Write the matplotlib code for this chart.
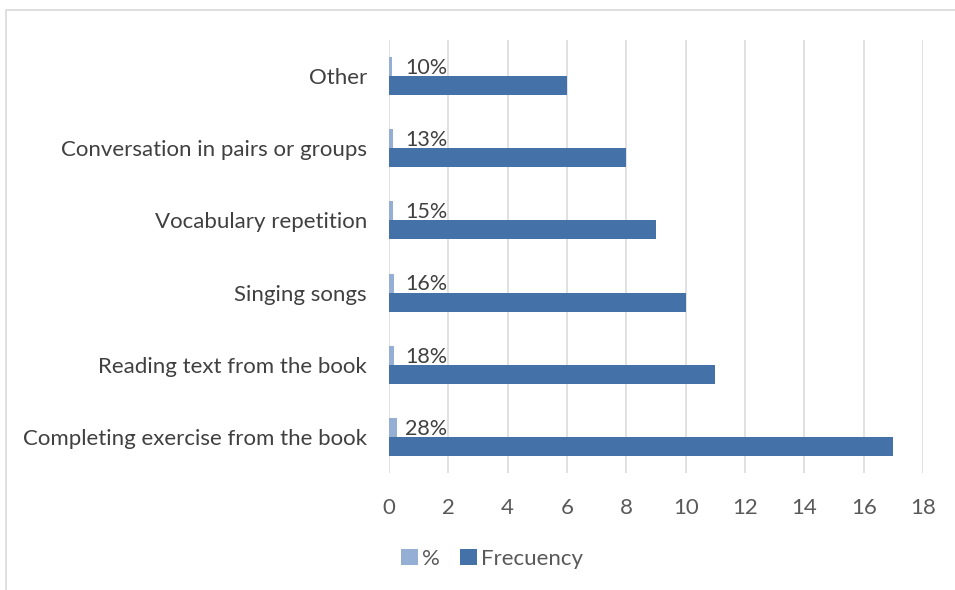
import matplotlib.pyplot as plt
from matplotlib.patches import Rectangle

# activities, top to bottom as in the chart
categories = [
    "Other",
    "Conversation in pairs or groups",
    "Vocabulary repetition",
    "Singing songs",
    "Reading text from the book",
    "Completing exercise from the book",
]
frecuency = [6, 8, 9, 10, 11, 17]
percent = [0.10, 0.13, 0.15, 0.16, 0.18, 0.28]
percent_labels = ["10%", "13%", "15%", "16%", "18%", "28%"]
x_ticks = [0, 2, 4, 6, 8, 10, 12, 14, 16, 18]

plt.rcParams["font.family"] = ["Lato", "DejaVu Sans"]

fig = plt.figure(figsize=(9.55, 5.9), dpi=100)
ax = fig.add_axes([389 / 955, 1 - 473 / 590, 534 / 955, 433 / 590])

# bottom category first so "Other" sits at the top
pos = list(range(len(categories)))[::-1]
h = 0.263

ax.barh([p - h / 2 for p in pos], frecuency, height=h, color="#4472A8",
        label="Frecuency", zorder=3)
ax.barh([p + h / 2 for p in pos], percent, height=h, color="#95AED4",
        label="%", zorder=3)

for p, lab in zip(pos, percent_labels):
    ax.annotate(lab, xy=(0, p + h / 2), xytext=(11.5, -1),
                textcoords="offset points", va="center", ha="left",
                fontsize=15.5, color="#404040", zorder=4)

ax.set_xlim(0, 18)
ax.set_ylim(-0.5, len(categories) - 0.5)
ax.set_xticks(x_ticks)
ax.set_yticks(pos)
ax.set_yticklabels(categories)
ax.tick_params(axis="x", length=0, pad=18, labelsize=16, labelcolor="#595959")
ax.tick_params(axis="y", length=0, pad=16, labelsize=16, labelcolor="#404040")

ax.grid(axis="x", color="#D9D9D9", linewidth=1.1, zorder=0)
for s in ax.spines.values():
    s.set_visible(False)

handles, labels = ax.get_legend_handles_labels()
fig.legend(handles[::-1], labels[::-1], loc="center",
           bbox_to_anchor=(492 / 955, 1 - 559 / 590), ncol=2, frameon=False,
           fontsize=16, handlelength=0.75, handleheight=0.75,
           handletextpad=0.2, columnspacing=0.9, labelcolor="#595959")

# chart area border, cut at the right and bottom edges
fig.patches.append(Rectangle((6 / 955, -0.1), 1.2, 1.1 - 10 / 590,
                             transform=fig.transFigure, fill=False,
                             edgecolor="#D9D9D9", linewidth=1.2))

fig.savefig("out.png", dpi=100)
